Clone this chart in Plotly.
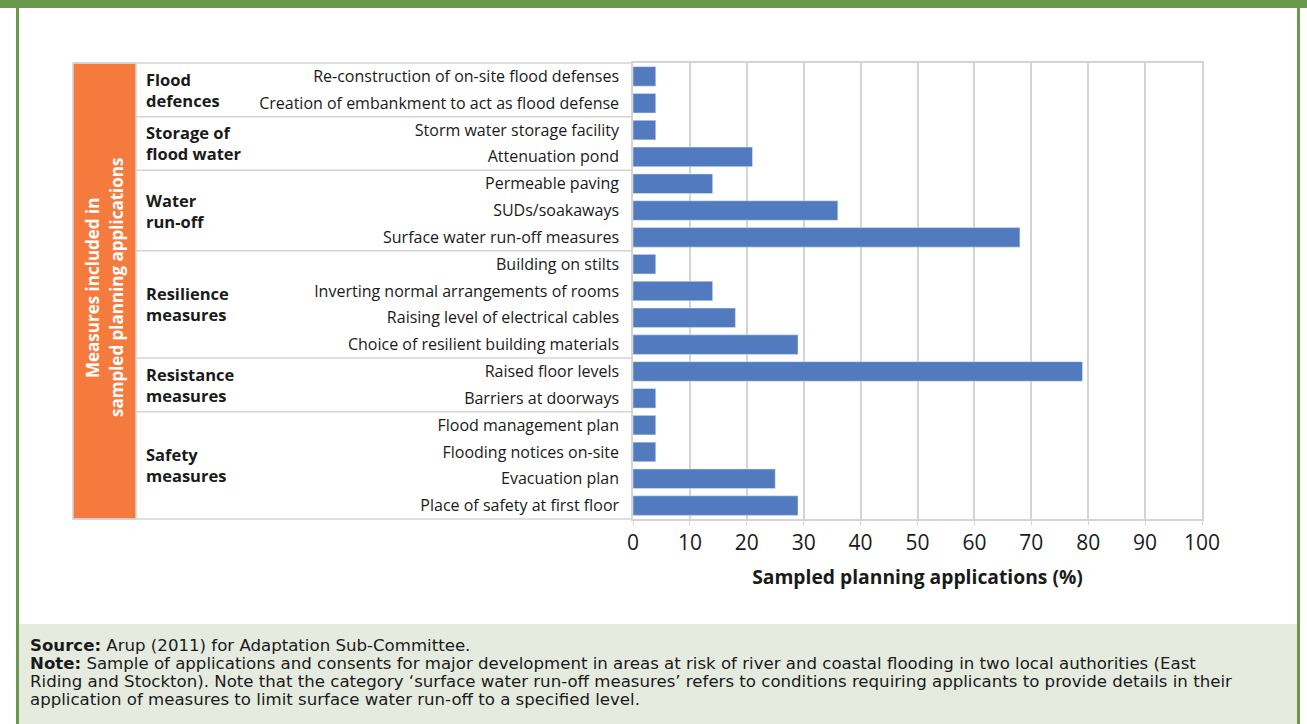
import plotly.graph_objects as go

# Measures (top to bottom) and share of sampled planning applications (%)
measures = [
    "Re-construction of on-site flood defenses",
    "Creation of embankment to act as flood defense",
    "Storm water storage facility",
    "Attenuation pond",
    "Permeable paving",
    "SUDs/soakaways",
    "Surface water run-off measures",
    "Building on stilts",
    "Inverting normal arrangements of rooms",
    "Raising level of electrical cables",
    "Choice of resilient building materials",
    "Raised floor levels",
    "Barriers at doorways",
    "Flood management plan",
    "Flooding notices on-site",
    "Evacuation plan",
    "Place of safety at first floor",
]
values = [4, 4, 4, 21, 14, 36, 68, 4, 14, 18, 29, 79, 4, 4, 4, 25, 29]

groups = ["Flood<br>defences", "Storage of<br>flood water", "Water<br>run-off",
          "Resilience<br>measures", "Resistance<br>measures", "Safety<br>measures"]
group_sizes = [2, 2, 3, 4, 2, 4]

x_ticks = list(range(0, 101, 10))

W, H = 1307, 724


def px(x):
    return x / W


def py(y):
    return 1 - y / H


GREEN = "#6a994b"
GRID = "#d4d4d4"
FONT = "Open Sans"
TXT = "#1a1a1a"

fig = go.Figure(go.Bar(x=values, y=measures, orientation="h",
                       marker_color="#527bbf", hoverinfo="x+y"))

shapes = []
annotations = []

# frame: green top bar and side lines, footer band
shapes.append(dict(type="rect", xref="paper", yref="paper", x0=0, x1=1,
                   y0=py(8), y1=1, fillcolor=GREEN, line_width=0))
shapes.append(dict(type="rect", xref="paper", yref="paper", x0=px(19), x1=px(1297),
                   y0=0, y1=py(624), fillcolor="#e6ebe0", line_width=0, layer="below"))
for x0, x1 in [(16, 19), (1297, 1300)]:
    shapes.append(dict(type="rect", xref="paper", yref="paper", x0=px(x0), x1=px(x1),
                       y0=0, y1=1, fillcolor=GREEN, line_width=0))

# orange side column
shapes.append(dict(type="rect", xref="paper", yref="paper", x0=px(73), x1=px(136),
                   y0=py(519), y1=py(63), fillcolor="#f47a3e",
                   line=dict(color=GRID, width=1.5)))
# table outline left part
for yy in (63, 519):
    shapes.append(dict(type="line", xref="paper", yref="paper", x0=px(73), x1=px(633),
                       y0=py(yy), y1=py(yy), line=dict(color=GRID, width=1.5)))

# group separators and labels
start = 0
for i, (g, n) in enumerate(zip(groups, group_sizes)):
    annotations.append(dict(xref="paper", yref="y", x=px(144), y=start + (n - 1) / 2,
                            text="<b>" + g + "</b>", showarrow=False, xanchor="left",
                            align="left", font=dict(family=FONT, size=16.5, color=TXT)))
    start += n
    if i < len(groups) - 1:
        shapes.append(dict(type="line", xref="paper", yref="y", x0=px(136), x1=px(633),
                           y0=start - 0.5, y1=start - 0.5, line=dict(color=GRID, width=1.5)))

# rotated title in the orange column, one annotation per line
for text, xc in [("Measures included in", 92), ("sampled planning applications", 116)]:
    annotations.append(dict(xref="paper", yref="paper", x=px(xc), y=py(288),
                            xanchor="center", yanchor="middle",
                            text="<b>" + text + "</b>", textangle=-90, showarrow=False,
                            font=dict(family=FONT, size=17, color="white")))

# footer notes
footer = [
    "<b>Source:</b> Arup (2011) for Adaptation Sub-Committee.",
    "<b>Note:</b> Sample of applications and consents for major development in areas at risk of river "
    "and coastal flooding in two local authorities (East",
    "Riding and Stockton). Note that the category \u2018surface water run-off measures\u2019 refers to "
    "conditions requiring applicants to provide details in their",
    "application of measures to limit surface water run-off to a specified level.",
]
for k, line in enumerate(footer):
    annotations.append(dict(xref="paper", yref="paper", x=px(28), y=py(645 + 18.3 * k),
                            text=line, showarrow=False, xanchor="left", yanchor="middle",
                            font=dict(family="DejaVu Sans", size=16.6, color=TXT)))

fig.update_layout(
    width=W, height=H,
    margin=dict(l=0, r=0, t=0, b=0),
    paper_bgcolor="white", plot_bgcolor="white",
    bargap=0.27, showlegend=False,
    shapes=shapes, annotations=annotations,
    font=dict(family=FONT, color=TXT),
    xaxis=dict(domain=[px(633), px(1202)], range=[0, 100], tickvals=x_ticks,
               showgrid=True, gridcolor=GRID, gridwidth=1.5,
               showline=True, linecolor=GRID, linewidth=1.5, mirror=True,
               ticks="outside", ticklen=4, tickcolor=GRID, zeroline=False,
               tickfont=dict(family=FONT, size=21, color=TXT),
               title=dict(text="<b>Sampled planning applications (%)</b>", standoff=16,
                          font=dict(family=FONT, size=19.3, color=TXT)),
               automargin=False, fixedrange=True),
    yaxis=dict(domain=[py(519), py(63)], autorange="reversed",
               showline=True, linecolor=GRID, linewidth=1.5, mirror=True,
               showgrid=False, ticks="", ticklabelstandoff=9,
               tickfont=dict(family=FONT, size=16, color=TXT),
               automargin=False, fixedrange=True),
)

# page body margin would shift the figure by 8 px, so clear it
fig.write_html("out.html", config={"displayModeBar": False},
               post_script="document.body.style.margin='0';")
